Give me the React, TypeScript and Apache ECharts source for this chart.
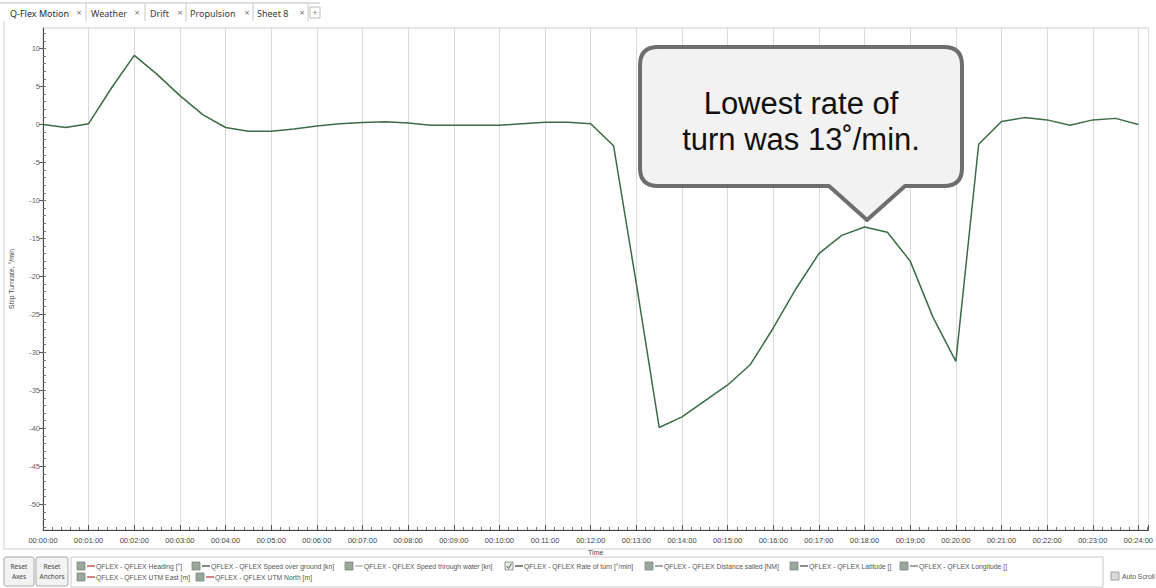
import React, { useEffect, useRef } from "react";
import * as echarts from "echarts";

// ---------------- data ----------------
const times = [
  "00:00:00", "00:00:30", "00:01:00", "00:01:30", "00:02:00", "00:02:30", "00:03:00", "00:03:30",
  "00:04:00", "00:04:30", "00:05:00", "00:05:30", "00:06:00", "00:06:30", "00:07:00", "00:07:30",
  "00:08:00", "00:08:30", "00:09:00", "00:09:30", "00:10:00", "00:10:30", "00:11:00", "00:11:30",
  "00:12:00", "00:12:30", "00:13:00", "00:13:30", "00:14:00", "00:14:30", "00:15:00", "00:15:30",
  "00:16:00", "00:16:30", "00:17:00", "00:17:30", "00:18:00", "00:18:30", "00:19:00", "00:19:30",
  "00:20:00", "00:20:30", "00:21:00", "00:21:30", "00:22:00", "00:22:30", "00:23:00", "00:23:30",
  "00:24:00",
];
const turnRate = [
  0.0, -0.4, 0.1, 4.8, 9.1, 6.6, 3.8, 1.3,
  -0.4, -0.9, -0.9, -0.6, -0.2, 0.1, 0.25, 0.35,
  0.2, -0.1, -0.1, -0.1, -0.1, 0.1, 0.3, 0.3,
  0.1, -2.8, -21.0, -39.9, -38.5, -36.4, -34.3, -31.6,
  -26.8, -21.6, -17.0, -14.6, -13.5, -14.2, -18.0, -25.4,
  -31.2, -2.6, 0.4, 0.9, 0.6, -0.1, 0.6, 0.8,
  0.0,
];
const xTickLabels = [
  "00:00:00", "00:01:00", "00:02:00", "00:03:00", "00:04:00", "00:05:00", "00:06:00", "00:07:00",
  "00:08:00", "00:09:00", "00:10:00", "00:11:00", "00:12:00", "00:13:00", "00:14:00", "00:15:00",
  "00:16:00", "00:17:00", "00:18:00", "00:19:00", "00:20:00", "00:21:00", "00:22:00", "00:23:00",
  "00:24:00",
];
const xMin = 0;
const xMax = 24.22;
const yTickValues = [-50, -45, -40, -35, -30, -25, -20, -15, -10, -5, 0, 5, 10];
const yMinorValues = [
  -53, -52, -51, -50, -49, -48, -47, -46, -45, -44, -43, -42, -41, -40, -39, -38, -37, -36, -35, -34,
  -33, -32, -31, -30, -29, -28, -27, -26, -25, -24, -23, -22, -21, -20, -19, -18, -17, -16, -15, -14,
  -13, -12, -11, -10, -9, -8, -7, -6, -5, -4, -3, -2, -1, 0, 1, 2, 3, 4, 5, 6, 7, 8, 9, 10, 11, 12,
];
const yMin = -53.4;
const yMax = 12.7;
const xName = "Time";
const yName = "Ship Turnrate, °/min";
const seriesName = "QFLEX - QFLEX Rate of turn [°/min]";

const tabNames = ["Q-Flex Motion", "Weather", "Drift", "Propulsion", "Sheet 8"];
const legendRow1 = [
  "QFLEX - QFLEX Heading [°]",
  "QFLEX - QFLEX Speed over ground [kn]",
  "QFLEX - QFLEX Speed through water [kn]",
  "QFLEX - QFLEX Rate of turn [°/min]",
  "QFLEX - QFLEX Distance sailed [NM]",
  "QFLEX - QFLEX Latitude []",
  "QFLEX - QFLEX Longitude []",
];
const legendRow2 = ["QFLEX - QFLEX UTM East [m]", "QFLEX - QFLEX UTM North [m]"];
const calloutLines = ["Lowest rate of", "turn was 13˚/min."];
const buttonLabels = ["Reset\nAxes", "Reset\nAnchors"];
const autoScrollLabel = "Auto Scroll";

// ---------------- layout / style ----------------
const W = 1156;
const H = 588;
const GRID = { left: 39, top: 28, right: 5, bottom: 58 };
const LINE_COLOR = "#3b6c46";
const tabTextX = [10, 91, 150, 190, 257];
const tabCloseX = [79, 137, 180, 247, 302];
const tabSepX = [86, 145, 186, 253, 308];
const legendRow1X = [77, 192, 345, 505, 645, 790, 900];
const legendRow2X = [77, 196];
const legendRow1Colors = ["#c65a5a", "#4e6b52", "#b8b8b8", "#5a5a5a", "#8a8a8a", "#6a6a6a", "#8a8a8a"];
const legendRow2Colors = ["#c65a5a", "#c65a5a"];

const CALLOUT_D =
  "M 658 47 L 944 47 Q 962 47 962 65 L 962 168 Q 962 186 944 186 L 905 186 L 867 220 L 829 186 L 658 186 Q 640 186 640 168 L 640 65 Q 640 47 658 47 Z";
echarts.graphic.registerShape("callout", echarts.graphic.extendPath(CALLOUT_D, {}) as any);

const toMinutes = (t: string) => {
  const [h, m, s] = t.split(":").map(Number);
  return h * 60 + m + s / 60;
};

function buildGraphic() {
  const g: any[] = [];
  const uiFont = "Noto Sans";
  // tab strip
  g.push({ type: "line", shape: { x1: 0, y1: 3, x2: 320, y2: 3 }, style: { stroke: "#bdbdbd", lineWidth: 1 } });
  tabNames.forEach((name, i) => {
    g.push({
      type: "text", x: tabTextX[i], y: 13,
      style: { text: name, fontSize: 9, fontFamily: uiFont, fill: i === 0 ? "#2a2a2a" : "#3a3a3a", verticalAlign: "middle" },
    });
    g.push({
      type: "text", x: tabCloseX[i], y: 12,
      style: { text: "×", fontSize: 9, fontFamily: uiFont, fill: "#777", verticalAlign: "middle", align: "center" },
    });
    g.push({ type: "line", shape: { x1: tabSepX[i], y1: 3, x2: tabSepX[i], y2: 21 }, style: { stroke: "#c8c8c8", lineWidth: 1 } });
  });
  g.push({ type: "rect", shape: { x: 310, y: 7, width: 10, height: 11 }, style: { fill: "#fff", stroke: "#bbb", lineWidth: 1 } });
  g.push({ type: "text", x: 315, y: 12, style: { text: "+", fontSize: 8, fontFamily: uiFont, fill: "#777", align: "center", verticalAlign: "middle" } });

  // panel frame
  g.push({ type: "line", shape: { x1: 4, y1: 21, x2: 4, y2: 549 }, style: { stroke: "#cfcfcf", lineWidth: 1 } });
  g.push({ type: "line", shape: { x1: 4, y1: 549, x2: W, y2: 549 }, style: { stroke: "#cfcfcf", lineWidth: 1 } });

  // buttons
  const bx = [4, 36];
  const bw = [30, 32];
  buttonLabels.forEach((lbl, i) => {
    g.push({ type: "rect", shape: { x: bx[i], y: 557, width: bw[i], height: 29, r: 2 }, style: { fill: "#f3f3f3", stroke: "#a8a8a8", lineWidth: 1 } });
    g.push({
      type: "text", x: bx[i] + bw[i] / 2, y: 571.5,
      style: { text: lbl, fontSize: 6.5, lineHeight: 10, fontFamily: uiFont, fill: "#444", align: "center", verticalAlign: "middle" },
    });
  });

  // legend box
  g.push({ type: "rect", shape: { x: 71, y: 557, width: 1032, height: 30 }, style: { fill: "#fff", stroke: "#c9c9c9", lineWidth: 1 } });
  const legendItem = (x: number, y: number, label: string, color: string, checked: boolean) => {
    g.push({ type: "rect", shape: { x, y: y - 4, width: 8, height: 8 }, style: { fill: checked ? "#e8ece8" : "#9aa79b", stroke: "#7d877e", lineWidth: 0.8 } });
    if (checked) {
      g.push({ type: "polyline", shape: { points: [[x + 1.5, y], [x + 3.5, y + 2.5], [x + 6.5, y - 2.5]] }, style: { stroke: "#4e5e50", lineWidth: 1, fill: null } });
    }
    g.push({ type: "line", shape: { x1: x + 10, y1: y, x2: x + 18, y2: y }, style: { stroke: color, lineWidth: 1.5 } });
    g.push({ type: "text", x: x + 19, y, style: { text: label, fontSize: 6.8, fontFamily: "Liberation Sans", fill: "#555", verticalAlign: "middle" } });
  };
  legendRow1.forEach((l, i) => legendItem(legendRow1X[i], 566, l, legendRow1Colors[i], i === 3));
  legendRow2.forEach((l, i) => legendItem(legendRow2X[i], 577, l, legendRow2Colors[i], false));

  // auto scroll
  g.push({ type: "rect", shape: { x: 1111, y: 572, width: 8, height: 8 }, style: { fill: "#d9dcd9", stroke: "#8a8a8a", lineWidth: 0.8 } });
  g.push({ type: "text", x: 1122, y: 576, style: { text: autoScrollLabel, fontSize: 6.8, fontFamily: "Liberation Sans", fill: "#555", verticalAlign: "middle" } });

  // callout
  g.push({ type: "callout", x: 0, y: 0, z: 100, shape: {}, style: { fill: "#f2f2f2", stroke: "#6e6e6e", lineWidth: 4, lineJoin: "round" } });
  calloutLines.forEach((t, i) => {
    g.push({
      type: "text", x: 801, y: 103 + i * 36, z: 101,
      style: { text: t, fontSize: 31, fontFamily: "Liberation Sans", fill: "#111", align: "center", verticalAlign: "middle" },
    });
  });
  return g;
}

export default function App() {
  const ref = useRef<HTMLDivElement>(null);
  useEffect(() => {
    if (!ref.current) return;
    const chart = echarts.init(ref.current, null, { renderer: "svg" });
    const data = times.map((t, i) => [toMinutes(t), turnRate[i]]);
    chart.setOption({
      animation: false,
      backgroundColor: "#ffffff",
      grid: {
        left: GRID.left, top: GRID.top, right: GRID.right, bottom: GRID.bottom,
        show: true, borderColor: "#cfcfcf", borderWidth: 1, backgroundColor: "transparent",
      },
      xAxis: {
        type: "value", min: xMin, max: xMax, interval: 1,
        name: xName, nameLocation: "middle", nameGap: 19,
        nameTextStyle: { fontSize: 7, color: "#444", fontFamily: "Liberation Sans" },
        axisLine: { show: true, onZero: false, lineStyle: { color: "#444", width: 1 } },
        axisTick: { show: true, inside: true, length: 5, lineStyle: { color: "#555" } },
        minorTick: { show: true, splitNumber: 5, length: 3, lineStyle: { color: "#777" } },
        axisLabel: {
          fontSize: 7.5, color: "#444", fontFamily: "Liberation Sans", margin: 6,
          showMaxLabel: false,
          formatter: (v: number) => {
            const i = Math.round(v);
            return Math.abs(v - i) < 1e-6 ? xTickLabels[i] ?? "" : "";
          },
        },
        splitLine: { show: true, lineStyle: { color: "#d9d9d9", width: 1 } },
      },
      yAxis: [
        {
          type: "value", min: yMin, max: yMax, position: "left",
          name: yName, nameLocation: "middle", nameGap: 28,
          nameTextStyle: { fontSize: 6.8, color: "#444", fontFamily: "Liberation Sans" },
          axisLine: { show: true, onZero: false, lineStyle: { color: "#444", width: 1 } },
          axisTick: { show: true, length: 4, customValues: yTickValues, lineStyle: { color: "#555" } },
          axisLabel: { fontSize: 7.5, color: "#666", fontFamily: "Liberation Sans", margin: 3, customValues: yTickValues },
          splitLine: { show: false },
        },
        {
          type: "value", min: yMin, max: yMax, position: "left",
          axisLine: { show: false },
          axisTick: { show: true, inside: true, length: 3, customValues: yMinorValues, lineStyle: { color: "#777" } },
          axisLabel: { show: false },
          splitLine: { show: false },
        },
      ],
      series: [
        {
          name: seriesName, type: "line", data, yAxisIndex: 0,
          showSymbol: false, symbol: "none",
          lineStyle: { color: LINE_COLOR, width: 1.5 },
          itemStyle: { color: LINE_COLOR },
        },
      ],
      graphic: buildGraphic(),
    });
    return () => chart.dispose();
  }, []);
  return <div ref={ref} style={{ position: "fixed", left: 0, top: 0, width: W, height: H, background: "#fff" }} />;
}
